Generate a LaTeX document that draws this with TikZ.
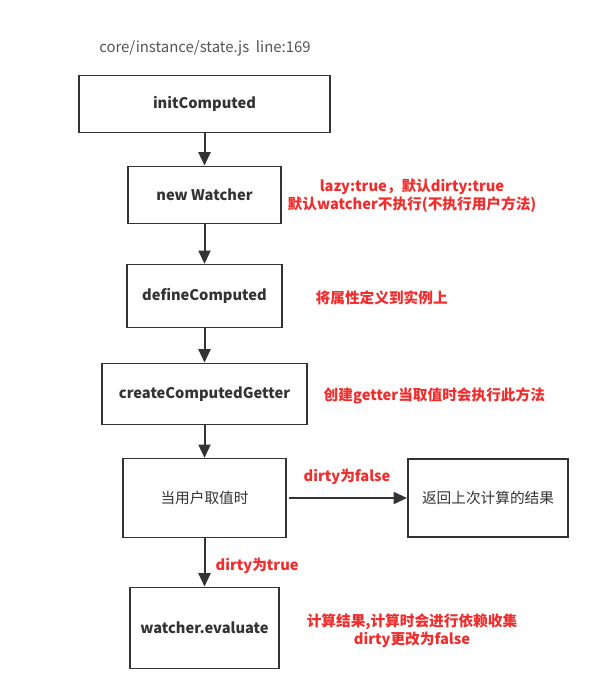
\documentclass[tikz,border=0pt]{standalone}
\usepackage{fontspec}
\setmainfont{Noto Sans CJK SC}
\usetikzlibrary{arrows.meta}
\definecolor{boxgray}{HTML}{333333}
\definecolor{textgray}{HTML}{555555}
\definecolor{notered}{HTML}{F22B2B}

\begin{document}
\begin{tikzpicture}[x=0.75pt, y=-0.75pt, >={Triangle[length=10pt,width=9pt]},
  font=\fontsize{11}{13}\selectfont,
  box/.style={draw=boxgray, line width=1.2pt, text=boxgray, inner sep=0pt},
  boldbox/.style={box, font=\fontsize{11}{13}\selectfont\bfseries},
  flow/.style={boxgray, line width=1.5pt, ->},
  note/.style={notered, font=\fontsize{11}{13.5}\selectfont\bfseries, align=center}]
  \useasboundingbox[fill=white] (0,0) rectangle (593,674);
  \node[textgray, font=\fontsize{11.2}{13}\selectfont] (file) at (205,48) {core/instance/state.js\ \ line:169};
  % main chain
  \node[boldbox, minimum width=188pt, minimum height=43pt] (init) at (204.5,104) {initComputed};
  \node[boldbox, minimum width=115pt, minimum height=43pt] (watcher) at (204.5,195) {new Watcher};
  \node[boldbox, minimum width=116pt, minimum height=47pt] (define) at (204.5,296) {defineComputed};
  \node[boldbox, minimum width=154pt, minimum height=46pt] (getter) at (204.5,394) {createComputedGetter};
  \node[box, minimum width=122pt, minimum height=59pt] (user) at (204.5,498) {当用户取值时};
  \node[box, minimum width=120pt, minimum height=59pt, line width=1.6pt] (result) at (488,498) {返回上次计算的结果};
  \node[boldbox, minimum width=112pt, minimum height=61pt] (evaluate) at (204.5,628) {watcher.evaluate};
  \draw[flow] (init) -- (watcher);
  \draw[flow] (watcher) -- (define);
  \draw[flow] (define) -- (getter);
  \draw[flow] (getter) -- (user);
  \draw[flow] (user) -- (evaluate);
  \draw[flow, shorten <=2pt] (user) -- (result);
  % notes
  \node[note] (lazy) at (412,196) {lazy:true，默认dirty:true\\默认watcher不执行(不执行用户方法)};
  \node[note, anchor=west] (attach) at (311,298) {将属性定义到实例上};
  \node[note, anchor=west] (create) at (319,396) {创建getter当取值时会执行此方法};
  \node[note, anchor=west] (dfalse) at (299,477) {dirty为false};
  \node[note, anchor=west] (dtrue) at (211,566) {dirty为true};
  \node[note] (collect) at (412,631) {计算结果,计算时会进行依赖收集\\dirty更改为false};
\end{tikzpicture}
\end{document}
